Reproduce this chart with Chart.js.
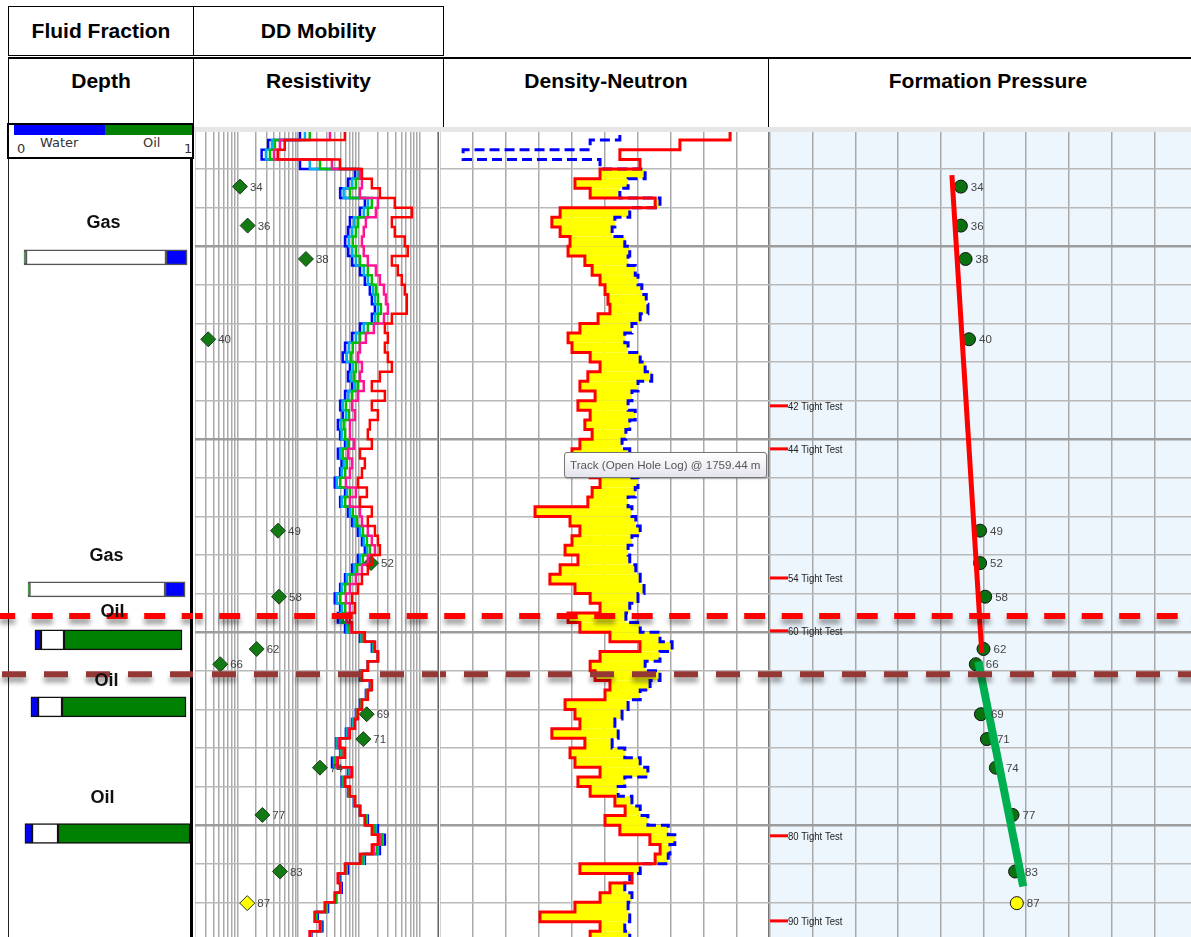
<!DOCTYPE html>
<html>
<head>
<meta charset="utf-8">
<script src="https://cdn.jsdelivr.net/npm/chart.js@4.4.1/dist/chart.umd.min.js"></script>
<style>
  body { margin: 0; background: #fff; font-family: "Liberation Sans", Arial, sans-serif; }
  #page { position: relative; width: 1191px; height: 937px; overflow: hidden; background: #fff; }
  .hbox { position: absolute; box-sizing: border-box; border: 1px solid #000; font-weight: bold;
          font-size: 21px; text-align: center; color: #000; background: #fff; }
  .row1 { top: 6px; height: 50px; line-height: 47px; }
  .row2 { top: 57px; height: 71px; padding-top: 10px; line-height: 24px; border-top-width: 2px; }
  .track { position: absolute; top: 132px; height: 808px; }
  .track canvas { display: block; }
  .rule { position: absolute; }
  #fluidScale { position: absolute; left: 7px; top: 123px; width: 187px; height: 36px; box-sizing: border-box;
                border: 2px solid #000; background: #fff; z-index: 5; font-size: 13px; color: #333;
                font-family: "DejaVu Sans", sans-serif; }
  #fluidScale div { position: absolute; top: 0; height: 10px; }
  #fluidScale span { position: absolute; line-height: 14px; }
  #tip { position: absolute; left: 564px; top: 452px; width: 203px; height: 26px; box-sizing: border-box;
         border: 1px solid #767676; border-radius: 3px; background: linear-gradient(#ffffff, #e4e5ee);
         box-shadow: 1px 1px 2px rgba(0,0,0,0.25); font-size: 11.6px; color: #575757;
         padding: 5px 0 0 5px; white-space: nowrap; z-index: 6; }
</style>
</head>
<body>
<div id="page">
  <div class="hbox row1" style="left:8px;width:186px;">Fluid Fraction</div>
  <div class="hbox row1" style="left:193px;width:251px;">DD Mobility</div>

  <div class="hbox row2" style="left:8px;width:186px;">Depth</div>
  <div class="hbox row2" style="left:193px;width:251px;">Resistivity</div>
  <div class="hbox row2" style="left:443px;width:326px;">Density-Neutron</div>
  <div class="hbox row2" style="left:768px;width:440px;">Formation Pressure</div>

  <div class="rule" style="left:193px;top:127px;width:998px;height:5px;background:#e6e6e6;"></div>
  <div class="rule" style="left:8px;top:158px;width:185px;height:790px;box-sizing:border-box;border-left:1px solid #222;border-right:3px solid #000;"></div>
  <div class="rule" style="left:437px;top:132px;width:2px;height:810px;background:#666;"></div>
  <div class="rule" style="left:768px;top:132px;width:2px;height:810px;background:#777;"></div>

  <div id="fluidScale">
    <div style="left:5px;width:91px;background:#0000ff;"></div>
    <div style="left:96px;width:87px;background:#008000;"></div>
    <span style="left:8px;top:17px;">0</span>
    <span style="left:31px;top:11px;">Water</span>
    <span style="left:134px;top:11px;">Oil</span>
    <span style="left:175px;top:17px;">1</span>
  </div>

  <div class="track" style="left:0px;width:193px;"><canvas id="fluidChart" width="193" height="808"></canvas></div>
  <div class="track" style="left:195px;width:243px;"><canvas id="resChart" width="243" height="808"></canvas></div>
  <div class="track" style="left:440px;width:330px;"><canvas id="dnChart" width="330" height="808"></canvas></div>
  <div class="track" style="left:770px;width:427px;"><canvas id="presChart" width="427" height="808"></canvas></div>

  <div id="tip">Track (Open Hole Log) @ 1759.44 m</div>
</div>

<script>
// depth window and grid (m)
const DEPTH_TOP = 1744.08;
const DEPTH_BASE = 1785.95;
const depthGrid = [1744, 1746, 1748, 1750, 1752, 1754, 1756, 1758, 1760, 1762, 1764,
  1766, 1768, 1770, 1772, 1774, 1776, 1778, 1780, 1782, 1784, 1786];

// log samples every 0.5 m
const depthSamples = [
  1744.0, 1744.5, 1745.0, 1745.5, 1746.0, 1746.5, 1747.0, 1747.5, 1748.0, 1748.5,
  1749.0, 1749.5, 1750.0, 1750.5, 1751.0, 1751.5, 1752.0, 1752.5, 1753.0, 1753.5,
  1754.0, 1754.5, 1755.0, 1755.5, 1756.0, 1756.5, 1757.0, 1757.5, 1758.0, 1758.5,
  1759.0, 1759.5, 1760.0, 1760.5, 1761.0, 1761.5, 1762.0, 1762.5, 1763.0, 1763.5,
  1764.0, 1764.5, 1765.0, 1765.5, 1766.0, 1766.5, 1767.0, 1767.5, 1768.0, 1768.5,
  1769.0, 1769.5, 1770.0, 1770.5, 1771.0, 1771.5, 1772.0, 1772.5, 1773.0, 1773.5,
  1774.0, 1774.5, 1775.0, 1775.5, 1776.0, 1776.5, 1777.0, 1777.5, 1778.0, 1778.5,
  1779.0, 1779.5, 1780.0, 1780.5, 1781.0, 1781.5, 1782.0, 1782.5, 1783.0, 1783.5,
  1784.0, 1784.5, 1785.0, 1785.5, 1786.0];

// array induction resistivity, ohm.m (deep -> shallow)
const resDeep = [
  48.6, 58.6, 6.0, 4.6, 48.6, 112, 163, 221, 389, 740,
  348, 389, 568, 636, 348, 436, 507, 568, 613, 613,
  348, 267, 299, 267, 299, 348, 221, 163, 267, 163,
  205, 151, 140, 163, 104, 125, 112, 96, 135, 104,
  163, 140, 183, 205, 221, 163, 140, 112, 96, 77,
  86, 71, 77, 125, 183, 205, 140, 112, 163, 140,
  112, 96, 86, 71, 49, 59, 45, 77, 59, 71,
  86, 104, 125, 163, 205, 163, 104, 59, 45, 49,
  40, 27.5, 18.7, 22.8, 15.5];
const res60 = [
  43.5, 33.3, 5.0, 4.0, 35.9, 104, 112, 104, 205, 190,
  130, 120, 112, 120, 140, 190, 221, 258, 278, 299,
  258, 176, 130, 104, 96, 112, 104, 120, 96, 77,
  86, 71, 71, 83, 66, 77, 71, 61, 89, 71,
  104, 112, 140, 163, 183, 140, 112, 89, 71, 61,
  71, 63, 74, 120, 183, 205, 140, 112, 163, 140,
  112, 96, 86, 68, 47, 56, 43.5, 74, 59, 71,
  86, 104, 125, 170, 221, 176, 108, 59, 45, 49,
  40, 27.5, 18.7, 22.8, 15.5];
const res30 = [
  38.7, 15.5, 4.13, 3.43, 22.8, 104, 89, 71, 163, 140,
  96, 89, 79, 89, 104, 140, 163, 190, 205, 230,
  205, 140, 104, 79, 74, 89, 83, 96, 77, 61,
  68, 56, 59, 68, 54, 63, 59, 49, 71, 59,
  79, 92, 116, 135, 151, 116, 92, 71, 59, 49,
  59, 54, 68, 112, 176, 205, 140, 108, 157, 135,
  108, 92, 83, 66, 45, 52, 40, 71, 56, 68,
  86, 104, 130, 183, 238, 197, 116, 61, 47, 50,
  42, 28.6, 19.4, 23.7, 16];
const res20 = [
  35.9, 12.9, 3.7, 2.95, 15.5, 96, 77, 56, 140, 120,
  83, 77, 68, 77, 89, 120, 140, 170, 183, 205,
  183, 120, 89, 68, 63, 79, 74, 86, 66, 54,
  61, 50, 52, 63, 49, 56, 52, 43, 63, 52,
  71, 83, 104, 120, 135, 104, 83, 63, 52, 43,
  52, 49, 63, 108, 170, 205, 140, 108, 157, 135,
  108, 92, 79, 63, 43, 50, 38.7, 68, 54, 68,
  83, 104, 135, 190, 246, 205, 120, 63, 47, 50,
  42, 29.7, 20, 23.7, 16];
const resShallow = [
  33.3, 10.7, 3.2, 2.5, 10.7, 86, 66, 49, 125, 104,
  71, 66, 59, 66, 77, 104, 125, 151, 163, 183,
  163, 104, 77, 59, 54, 71, 66, 77, 59, 49,
  54, 45, 49, 59, 45, 52, 49, 40, 59, 49,
  66, 77, 96, 112, 125, 96, 77, 59, 49, 40,
  49, 45, 59, 104, 163, 205, 140, 104, 151, 130,
  104, 89, 77, 61, 42, 49, 36, 66, 52, 66,
  83, 104, 140, 205, 267, 221, 125, 66, 49, 52,
  42, 31, 21, 25, 16.5];

// bulk density (g/cc) and neutron porosity (v/v)
const densityLog = [
  2.753, 2.829, 2.677, 2.495, 2.556, 2.435, 2.359, 2.405, 2.602, 2.314,
  2.289, 2.314, 2.344, 2.338, 2.389, 2.411, 2.435, 2.450, 2.459, 2.465,
  2.429, 2.374, 2.338, 2.350, 2.405, 2.435, 2.398, 2.374, 2.420, 2.368,
  2.405, 2.389, 2.411, 2.374, 2.350, 2.389, 2.405, 2.435, 2.411, 2.398,
  2.238, 2.344, 2.374, 2.350, 2.329, 2.368, 2.314, 2.283, 2.359, 2.405,
  2.435, 2.338, 2.374, 2.465, 2.556, 2.435, 2.405, 2.420, 2.465, 2.450,
  2.329, 2.359, 2.374, 2.289, 2.389, 2.344, 2.359, 2.435, 2.368, 2.405,
  2.480, 2.511, 2.450, 2.495, 2.586, 2.617, 2.602, 2.374, 2.532, 2.465,
  2.435, 2.359, 2.253, 2.435, 2.405];
const neutronLog = [
  -0.005, 0.123, 0.177, 0.408, 0.159, 0.077, 0.108, 0.123, 0.050, 0.105,
  0.132, 0.137, 0.114, 0.105, 0.108, 0.095, 0.090, 0.083, 0.075, 0.072,
  0.086, 0.101, 0.114, 0.108, 0.086, 0.077, 0.065, 0.090, 0.101, 0.108,
  0.095, 0.105, 0.112, 0.119, 0.105, 0.114, 0.101, 0.090, 0.095, 0.108,
  0.101, 0.094, 0.086, 0.101, 0.108, 0.105, 0.094, 0.086, 0.079, 0.090,
  0.105, 0.112, 0.086, 0.050, 0.028, 0.050, 0.077, 0.050, 0.068, 0.086,
  0.108, 0.119, 0.132, 0.126, 0.137, 0.114, 0.086, 0.072, 0.114, 0.126,
  0.101, 0.086, 0.072, 0.035, 0.023, 0.032, 0.035, 0.086, 0.105, 0.114,
  0.101, 0.108, 0.105, 0.114, 0.105];

// pretest stations
const testIds = [34, 36, 38, 40, 49, 52, 58, 62, 66, 69, 71, 74, 77, 83, 87];
const testDepths = [1746.91, 1748.93, 1750.66, 1754.82, 1764.74, 1766.42, 1768.16, 1770.87,
  1771.66, 1774.25, 1775.54, 1777.02, 1779.47, 1782.40, 1784.04];
const testPressures = [174.47, 174.47, 174.58, 174.66, 174.92, 174.92, 175.04, 175.00,
  174.82, 174.94, 175.08, 175.29, 175.68, 175.74, 175.78];
const testMobility = [1.10, 1.47, 13.4, 0.33, 4.65, 158, 4.83, 2.07, 0.52, 134, 118, 22.8, 2.57, 5.0, 1.45];
const testStatus = ['valid', 'valid', 'valid', 'valid', 'valid', 'valid', 'valid', 'valid',
  'valid', 'valid', 'valid', 'valid', 'valid', 'valid', 'limited'];
const tightIds = [42, 44, 54, 60, 80, 90];
const tightDepths = [1758.27, 1760.50, 1767.19, 1769.93, 1780.55, 1784.96];

// fitted gradients
const gasLineDepths = [1746.31, 1771.07];
const gasLinePressures = [174.26, 174.96];
const oilLineDepths = [1771.52, 1783.18];
const oilLinePressures = [174.88, 175.93];

// fluid contacts
const contactNames = ['GOC', 'OWC'];
const contactDepths = [1769.16, 1772.18];

// fluid fraction bars
const fluidDepths = [1750.58, 1767.78, 1770.40, 1773.87, 1780.43];
const fluidZones = ['Gas', 'Gas', 'Oil', 'Oil', 'Oil'];
const waterFrac = [[0.857, 0.973], [0.852, 0.962], [0.137, 0.170], [0.115, 0.154], [0.082, 0.121]];
const gasFrac = [[0.088, 0.857], [0.107, 0.852], [0.170, 0.297], [0.154, 0.286], [0.121, 0.264]];
const oilFrac = [[0.077, 0.088], [0.099, 0.107], [0.297, 0.945], [0.286, 0.967], [0.264, 0.989]];

// grid ticks for the curve tracks
const resGrid = [0.2, 0.3, 0.4, 0.5, 0.6, 0.7, 0.8, 0.9, 1, 2, 3, 4, 5, 6, 7, 8, 9,
  10, 20, 30, 40, 50, 60, 70, 80, 90, 100, 200, 300, 400, 500, 600, 700, 800, 900, 1000, 2000];
const densityGrid = [1.95, 2.05, 2.15, 2.25, 2.35, 2.45, 2.55, 2.65, 2.75, 2.85, 2.95];
const pressureGrid = [170, 171, 172, 173, 174, 175, 176, 177, 178, 179, 180];

const contactStyle = {
  GOC: { color: '#ff0000', dash: [21, 16.5], phase: 781.7 },
  OWC: { color: '#953735', dash: [24, 18], phase: 800 }
};
const statusColor = { valid: '#0b700b', limited: '#ffff00' };

function fixedTicks(values) {
  return scale => { scale.ticks = values.map(v => ({ value: v })); };
}

function depthAxis(showGrid) {
  return {
    type: 'linear', reverse: true, offset: false, min: DEPTH_TOP, max: DEPTH_BASE,
    afterBuildTicks: fixedTicks(depthGrid),
    ticks: { display: false },
    border: { display: false },
    grid: {
      display: showGrid, drawTicks: false, offset: false,
      color: c => (c.tick && c.tick.value % 10 === 0) ? '#9c9c9c' : '#b9b9b9',
      lineWidth: c => (c.tick && c.tick.value % 10 === 0) ? 2.5 : 1.5
    }
  };
}

function valueAxis(extra, ticks) {
  return Object.assign({
    afterBuildTicks: fixedTicks(ticks),
    ticks: { display: false },
    border: { display: false },
    grid: { drawTicks: false, color: '#a9a9a9', lineWidth: 1.5 }
  }, extra);
}

const baseOptions = {
  responsive: false, animation: false, events: [],
  layout: { padding: 0, autoPadding: false },
  plugins: { legend: { display: false }, tooltip: { enabled: false } }
};

// dashed contact lines run across every track; dash phase follows page position
const contactLines = {
  id: 'contactLines',
  afterDatasetsDraw(chart) {
    const { ctx } = chart;
    const y = chart.scales.y;
    const left = chart.canvas.getBoundingClientRect().left;
    contactDepths.forEach((d, i) => {
      const st = contactStyle[contactNames[i]];
      const py = y.getPixelForValue(d);
      ctx.save();
      ctx.strokeStyle = st.color;
      ctx.lineWidth = 6;
      ctx.setLineDash(st.dash);
      ctx.lineDashOffset = left - st.phase;
      ctx.shadowColor = 'rgba(0,0,0,0.4)';
      ctx.shadowBlur = 5;
      ctx.shadowOffsetY = 5;
      ctx.beginPath();
      ctx.moveTo(0, py);
      ctx.lineTo(chart.width, py);
      ctx.stroke();
      ctx.restore();
    });
  }
};

// station numbers beside the markers
const stationTags = {
  id: 'stationTags',
  afterDatasetsDraw(chart, args, opts) {
    const { ctx } = chart;
    chart.data.datasets.forEach((ds, i) => {
      if (!ds.tags) return;
      const meta = chart.getDatasetMeta(i);
      ctx.save();
      ctx.font = '11.5px "Liberation Sans", Arial, sans-serif';
      ctx.fillStyle = '#444';
      ctx.textBaseline = 'middle';
      meta.data.forEach((pt, j) => ctx.fillText(String(ds.tags[j]), pt.x + opts.dx, pt.y + 1));
      ctx.restore();
    });
  }
};

function curve(label, values, color) {
  return {
    label, xAxisID: 'x',
    data: depthSamples.map((d, i) => ({ x: values[i], y: d })),
    borderColor: color, borderWidth: 2.5, pointRadius: 0, stepped: true, tension: 0
  };
}

// ---- Fluid fraction / depth column
function fluidSets(zone, thickness) {
  const idx = fluidDepths.map((d, i) => i).filter(i => fluidZones[i] === zone);
  const make = (label, frac, color) => ({
    label, grouped: false, barThickness: thickness,
    data: idx.map(i => ({ x: frac[i], y: fluidDepths[i] })),
    backgroundColor: color, borderColor: zone === 'Gas' ? '#555' : '#111',
    borderWidth: 1.5, borderSkipped: false
  });
  return [make('Water', waterFrac, '#0000ff'), make('Gas', gasFrac, '#ffffff'), make('Oil', oilFrac, '#008000')];
}

// zone captions sit above each bar; lift in px
const zoneLabels = {
  id: 'zoneLabels',
  afterDraw(chart, args, opts) {
    const { ctx, scales: { x, y } } = chart;
    ctx.save();
    ctx.font = 'bold 18px "Liberation Sans", Arial, sans-serif';
    ctx.fillStyle = '#111';
    ctx.textAlign = 'center';
    ctx.textBaseline = 'middle';
    fluidDepths.forEach((d, i) => {
      const lo = Math.min(waterFrac[i][0], gasFrac[i][0], oilFrac[i][0]);
      const hi = Math.max(waterFrac[i][1], gasFrac[i][1], oilFrac[i][1]);
      const cx = (x.getPixelForValue(lo) + x.getPixelForValue(hi)) / 2;
      ctx.fillText(fluidZones[i], cx + opts.shift[i], y.getPixelForValue(d) - opts.lift[i]);
    });
    ctx.restore();
  }
};

new Chart(document.getElementById('fluidChart'), {
  type: 'bar',
  data: { datasets: [...fluidSets('Gas', 15), ...fluidSets('Oil', 20)] },
  options: Object.assign({}, baseOptions, {
    indexAxis: 'y',
    layout: { padding: { left: 10, right: 1, top: 0, bottom: 0 }, autoPadding: false },
    scales: {
      x: { type: 'linear', min: 0, max: 1, display: false },
      y: depthAxis(false)
    },
    plugins: Object.assign({}, baseOptions.plugins, {
      zoneLabels: { lift: [34, 33, 28, 26, 35], shift: [-2, 0, 4, -2, -5] }
    })
  }),
  plugins: [contactLines, zoneLabels]
});

// ---- Resistivity + drawdown mobility
new Chart(document.getElementById('resChart'), {
  type: 'line',
  data: {
    datasets: [
      curve('AT90', resDeep, '#ff0000'),
      curve('AT60', res60, '#ff1493'),
      curve('AT30', res30, '#00c000'),
      curve('AT20', res20, '#00b0f0'),
      curve('AT10', resShallow, '#0000ff'),
      {
        label: 'DD Mobility', xAxisID: 'x', showLine: false, tags: testIds,
        data: testDepths.map((d, i) => ({ x: testMobility[i], y: d })),
        pointStyle: 'rectRot', pointRadius: 7.5,
        pointBackgroundColor: testStatus.map(s => s === 'valid' ? '#137a13' : statusColor[s]),
        pointBorderColor: '#1e3a1e', pointBorderWidth: 1
      }
    ]
  },
  options: Object.assign({}, baseOptions, {
    indexAxis: 'y',
    scales: {
      x: valueAxis({ type: 'logarithmic', min: 0.2, max: 2000 }, resGrid),
      y: depthAxis(true)
    },
    plugins: Object.assign({}, baseOptions.plugins, { stationTags: { dx: 10 } })
  }),
  plugins: [contactLines, stationTags]
});

// ---- Density-neutron with crossover shading
const crossoverFill = {
  id: 'crossoverFill',
  beforeDatasetsDraw(chart) {
    const { ctx, chartArea, scales } = chart;
    ctx.save();
    ctx.beginPath();
    ctx.rect(chartArea.left, chartArea.top, chartArea.width, chartArea.height);
    ctx.clip();
    ctx.fillStyle = '#ffff00';
    for (let i = 1; i < depthSamples.length; i++) {
      const y0 = scales.y.getPixelForValue(depthSamples[i - 1]);
      const y1 = scales.y.getPixelForValue(depthSamples[i]);
      const a = scales.x.getPixelForValue(densityLog[i]);
      const b = scales.xn.getPixelForValue(neutronLog[i]);
      if (b > a) ctx.fillRect(a, y0, b - a, y1 - y0);
    }
    ctx.restore();
  }
};

new Chart(document.getElementById('dnChart'), {
  type: 'line',
  data: {
    datasets: [
      {
        label: 'RHOB', xAxisID: 'x',
        data: depthSamples.map((d, i) => ({ x: densityLog[i], y: d })),
        borderColor: '#ff0000', borderWidth: 3, pointRadius: 0, stepped: true
      },
      {
        label: 'NPHI', xAxisID: 'xn',
        data: depthSamples.map((d, i) => ({ x: neutronLog[i], y: d })),
        borderColor: '#0000ff', borderWidth: 3, borderDash: [10, 5], pointRadius: 0, stepped: true
      }
    ]
  },
  options: Object.assign({}, baseOptions, {
    indexAxis: 'y',
    scales: {
      x: valueAxis({ type: 'linear', min: 1.95, max: 2.95 }, densityGrid),
      xn: { type: 'linear', min: -0.15, max: 0.45, reverse: true, display: false },
      y: depthAxis(true)
    }
  }),
  plugins: [crossoverFill, contactLines]
});

// ---- Formation pressure
const trackShade = {
  id: 'trackShade',
  beforeDraw(chart) {
    const { ctx, chartArea } = chart;
    ctx.save();
    ctx.fillStyle = '#eef6fd';
    ctx.fillRect(chartArea.left, chartArea.top, chartArea.width, chartArea.height);
    ctx.restore();
  }
};

const tightTests = {
  id: 'tightTests',
  afterDatasetsDraw(chart) {
    const { ctx, chartArea, scales: { y } } = chart;
    ctx.save();
    tightDepths.forEach((d, i) => {
      const py = y.getPixelForValue(d);
      ctx.strokeStyle = '#ff0000';
      ctx.lineWidth = 3;
      ctx.beginPath();
      ctx.moveTo(chartArea.left, py);
      ctx.lineTo(chartArea.left + 18, py);
      ctx.stroke();
      // narrow label face
      ctx.save();
      ctx.translate(chartArea.left + 18, py + 1);
      ctx.scale(0.87, 1);
      ctx.font = '11px "Liberation Sans", Arial, sans-serif';
      ctx.fillStyle = '#222';
      ctx.textBaseline = 'middle';
      ctx.fillText(tightIds[i] + ' Tight Test', 0, 0);
      ctx.restore();
    });
    ctx.restore();
  }
};

new Chart(document.getElementById('presChart'), {
  type: 'scatter',
  data: {
    datasets: [
      {
        label: 'Gas gradient', showLine: true,
        data: gasLineDepths.map((d, i) => ({ x: gasLinePressures[i], y: d })),
        borderColor: '#ff0000', borderWidth: 5, pointRadius: 0
      },
      {
        label: 'Oil gradient', showLine: true,
        data: oilLineDepths.map((d, i) => ({ x: oilLinePressures[i], y: d })),
        borderColor: '#00b050', borderWidth: 8, pointRadius: 0
      },
      {
        label: 'Pretests', tags: testIds,
        data: testDepths.map((d, i) => ({ x: testPressures[i], y: d })),
        pointRadius: 6.5,
        pointBackgroundColor: testStatus.map(s => s === 'valid' ? '#0a7010' : statusColor[s]),
        pointBorderColor: '#111', pointBorderWidth: 1
      }
    ]
  },
  options: Object.assign({}, baseOptions, {
    scales: {
      x: valueAxis({ type: 'linear', min: 170, max: 180 }, pressureGrid),
      y: depthAxis(true)
    },
    plugins: Object.assign({}, baseOptions.plugins, { stationTags: { dx: 10 } })
  }),
  plugins: [trackShade, tightTests, stationTags, contactLines]
});
</script>
</body>
</html>
